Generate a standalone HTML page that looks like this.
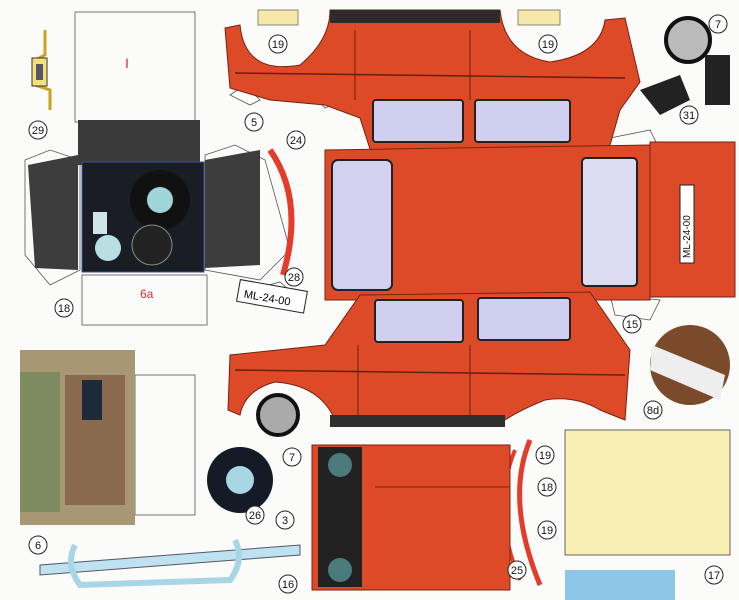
<!DOCTYPE html>
<html><head><meta charset="utf-8"><style>
html,body{margin:0;padding:0;background:#fff}
svg{display:block}
text{font-family:"Liberation Sans",sans-serif}
</style></head><body>
<svg width="739" height="600" viewBox="0 0 739 600" xmlns="http://www.w3.org/2000/svg">
<rect width="739" height="600" fill="#fbfbfa"/>
<g fill="none" stroke="#555" stroke-width="0.8">
<rect x="75" y="12" width="120" height="110"/>
<polygon points="25,160 50,150 80,160 80,270 50,285 25,255"/>
<polygon points="205,155 235,145 265,160 290,250 260,280 205,270"/>
<rect x="82" y="275" width="125" height="50"/>
<rect x="135" y="375" width="60" height="140"/>
<polygon points="230,95 245,85 260,100 250,105"/>
<polygon points="310,90 330,85 345,100 325,108"/>
<polygon points="600,140 650,130 660,150 610,160"/>
<polygon points="610,295 660,300 650,320 615,315"/>
<polygon points="250,290 280,282 300,300 255,305"/>
</g>
<!-- part 29 -->
<path d="M45,30 L45,55 L35,60 L35,85 L50,90 L50,110" fill="none" stroke="#c9a21f" stroke-width="3"/>
<rect x="32" y="58" width="15" height="28" fill="#f3e07a" stroke="#333"/>
<rect x="36" y="64" width="7" height="16" fill="#556"/>
<!-- left box dark -->
<rect x="78" y="120" width="122" height="45" fill="#3a3a3a"/>
<polygon points="28,165 78,155 78,270 35,268" fill="#3d3d3d"/>
<polygon points="205,160 260,150 260,265 205,268" fill="#3d3d3d"/>
<rect x="82" y="162" width="122" height="110" fill="#1a1d24" stroke="#3b53a0"/>
<circle cx="160" cy="200" r="30" fill="#111"/>
<circle cx="160" cy="200" r="13" fill="#9fd4d8"/>
<circle cx="152" cy="245" r="20" fill="#222" stroke="#888"/>
<circle cx="108" cy="248" r="13" fill="#b8dfe3"/>
<rect x="93" y="212" width="14" height="22" fill="#cfe5e8"/>
<text x="125" y="68" font-size="14" fill="#c33">I</text>
<text x="140" y="298" font-size="12" fill="#c33">6a</text>
<!-- top body -->
<path d="M225,28 L240,25 Q245,75 300,65 Q330,40 330,10 L500,10 Q505,55 550,62 Q600,55 605,20 L625,18 L640,82 L620,110 L600,180 L380,180 L360,118 L325,105 L270,100 L230,88 Z" fill="#dd4a28" stroke="#7a2010" stroke-width="1"/>
<rect x="330" y="10" width="170" height="13" fill="#2b2b2b"/>
<rect x="258" y="10" width="40" height="15" fill="#f6e8a8" stroke="#887"/>
<rect x="518" y="10" width="42" height="15" fill="#f6e8a8" stroke="#887"/>
<line x1="235" y1="73" x2="625" y2="78" stroke="#6a1d0c" stroke-width="1.5"/>
<line x1="355" y1="30" x2="355" y2="100" stroke="#6a1d0c"/>
<line x1="470" y1="30" x2="470" y2="100" stroke="#6a1d0c"/>
<rect x="373" y="100" width="90" height="42" rx="3" fill="#cfcff0" stroke="#222" stroke-width="2"/>
<rect x="475" y="100" width="95" height="42" rx="3" fill="#cfcff0" stroke="#222" stroke-width="2"/>
<!-- roof -->
<path d="M325,150 L650,145 L650,300 L325,300 Z" fill="#dd4a28" stroke="#7a2010"/>
<rect x="650" y="142" width="85" height="155" fill="#dd4a28" stroke="#7a2010"/>
<rect x="332" y="160" width="60" height="130" rx="6" fill="#d2d2f0" stroke="#222" stroke-width="2"/>
<rect x="582" y="158" width="55" height="128" rx="4" fill="#dcdcf2" stroke="#222" stroke-width="2"/>
<rect x="680" y="185" width="14" height="78" fill="#fff" stroke="#222"/>
<text x="690" y="258" font-size="10" transform="rotate(-90 690 258)" fill="#111">ML-24-00</text>
<!-- lower side -->
<path d="M230,355 L325,345 L360,295 L590,292 L630,350 L625,420 L600,410 Q575,395 545,400 Q520,410 505,420 L335,420 Q320,385 275,382 Q245,390 240,415 L228,410 Z" fill="#dd4a28" stroke="#7a2010"/>
<rect x="330" y="415" width="175" height="12" fill="#2f2f2f"/>
<line x1="235" y1="370" x2="625" y2="375" stroke="#6a1d0c" stroke-width="1.5"/>
<line x1="358" y1="345" x2="358" y2="415" stroke="#6a1d0c"/>
<line x1="470" y1="345" x2="470" y2="415" stroke="#6a1d0c"/>
<rect x="375" y="300" width="88" height="42" rx="3" fill="#cfcff0" stroke="#222" stroke-width="2"/>
<rect x="478" y="298" width="92" height="42" rx="3" fill="#cfcff0" stroke="#222" stroke-width="2"/>
<!-- red arcs -->
<path d="M270,150 Q305,200 283,275" stroke="#e43b2a" stroke-width="6" fill="none"/>
<path d="M530,440 Q505,500 540,585" stroke="#e43b2a" stroke-width="5" fill="none"/>
<path d="M515,450 Q490,510 520,580" stroke="#e43b2a" stroke-width="4" fill="none"/>
<!-- hood -->
<rect x="312" y="445" width="198" height="145" fill="#dd4a28" stroke="#7a2010"/>
<rect x="318" y="447" width="44" height="140" fill="#222"/>
<circle cx="340" cy="465" r="12" fill="#4a7a7a"/>
<circle cx="340" cy="570" r="12" fill="#4a7a7a"/>
<line x1="375" y1="487" x2="510" y2="487" stroke="#7a2010"/>
<!-- yellow -->
<rect x="565" y="430" width="165" height="125" fill="#f8efb3" stroke="#666"/>
<rect x="565" y="570" width="110" height="30" fill="#8ec6e8"/>
<!-- khaki -->
<rect x="20" y="350" width="115" height="175" fill="#a79772"/>
<rect x="20" y="372" width="40" height="140" fill="#7e8a60"/>
<rect x="65" y="375" width="60" height="130" fill="#8a6a4f"/>
<rect x="82" y="380" width="20" height="40" fill="#1d2a3a"/>
<!-- bumpers -->
<polygon points="40,565 300,545 300,555 40,575" fill="#bfe2f0" stroke="#556"/>
<path d="M75,545 Q65,565 80,585 L230,580 Q245,560 235,540" fill="none" stroke="#a9d6e6" stroke-width="6"/>
<!-- wheels -->
<circle cx="240" cy="480" r="33" fill="#141a26"/>
<circle cx="240" cy="480" r="14" fill="#a8d6e4"/>
<circle cx="278" cy="415" r="20" fill="#aaa" stroke="#111" stroke-width="4"/>
<circle cx="688" cy="40" r="22" fill="#bbb" stroke="#111" stroke-width="4"/>
<circle cx="690" cy="365" r="40" fill="#7a4a2a"/>
<polygon points="652,345 725,375 720,400 650,370" fill="#eee"/>
<polygon points="640,90 680,75 690,100 660,115" fill="#222"/>
<rect x="705" y="55" width="25" height="50" fill="#222"/>
<!-- labels -->
<g font-size="11" text-anchor="middle" fill="#111">
<g fill="#fff" stroke="#222"><circle cx="278" cy="44" r="9"/><circle cx="548" cy="44" r="9"/><circle cx="718" cy="24" r="9"/><circle cx="689" cy="115" r="9"/><circle cx="38" cy="130" r="9"/><circle cx="254" cy="122" r="9"/><circle cx="296" cy="140" r="9"/><circle cx="294" cy="277" r="9"/><circle cx="64" cy="308" r="9"/><circle cx="632" cy="324" r="9"/><circle cx="653" cy="410" r="9"/><circle cx="292" cy="457" r="9"/><circle cx="285" cy="520" r="9"/><circle cx="255" cy="515" r="9"/><circle cx="38" cy="545" r="9"/><circle cx="288" cy="584" r="9"/><circle cx="517" cy="570" r="9"/><circle cx="545" cy="455" r="9"/><circle cx="547" cy="487" r="9"/><circle cx="547" cy="530" r="9"/><circle cx="714" cy="575" r="9"/></g>
<text x="278" y="48">19</text><text x="548" y="48">19</text><text x="718" y="28">7</text><text x="689" y="119">31</text><text x="38" y="134">29</text><text x="254" y="126">5</text><text x="296" y="144">24</text><text x="294" y="281">28</text><text x="64" y="312">18</text><text x="632" y="328">15</text><text x="653" y="414">8d</text><text x="292" y="461">7</text><text x="285" y="524">3</text><text x="255" y="519">26</text><text x="38" y="549">6</text><text x="288" y="588">16</text><text x="517" y="574">25</text><text x="545" y="459">19</text><text x="547" y="491">18</text><text x="547" y="534">19</text><text x="714" y="579">17</text>
</g>
<rect x="238" y="285" width="68" height="22" fill="#fff" stroke="#222" transform="rotate(10 270 296)"/>
<text x="244" y="302" font-size="11" transform="rotate(10 270 296)">ML-24-00</text>
</svg>
</body></html>
